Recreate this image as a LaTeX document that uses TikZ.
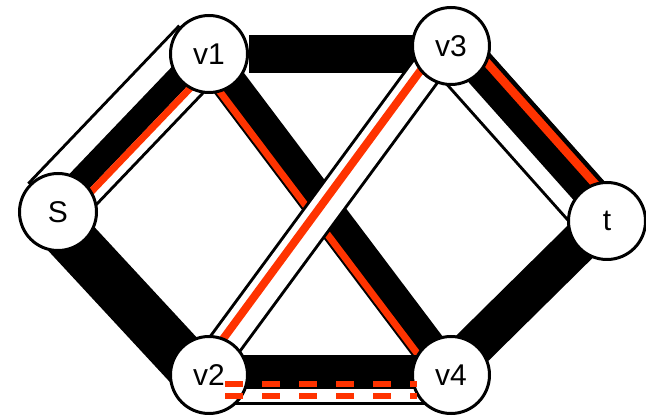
\documentclass[tikz,border=0pt]{standalone}
\usepackage{fontspec}
\setmainfont{Liberation Sans}
\usetikzlibrary{calc,backgrounds}
\definecolor{flowred}{HTML}{FF3300}

%% one straight band from node #2 to node #3, shifted sideways by #4
\newcommand{\edgeband}[4]{%
  \draw[#1] ($(#2)!#4!90:(#3)$) -- ($(#3)!#4!-90:(#2)$);}

\begin{document}
\begin{tikzpicture}[x=1pt, y=-1pt,
    vertex/.style={circle, draw=black, line width=3pt, fill=white,
                   minimum size=77pt, inner sep=0pt,
                   font=\fontsize{30}{36}\selectfont},
    full/.style={black, line width=#1},
    hollow/.style={white, line width=#1},
    augment/.style={flowred, line width=#1}]

\useasboundingbox (0,0) rectangle (646,419);

%% ==== vertices ======================================================
\node[vertex] (S)  at (58,212)  {S};
\node[vertex] (v1) at (209,54)  {v1};
\node[vertex] (v3) at (451,46)  {v3};
\node[vertex] (t)  at (607,221) {t};
\node[vertex] (v2) at (209,375) {v2};
\node[vertex] (v4) at (451,375) {v4};

\begin{pgfonlayer}{background}

  %% S -> v1: open pipe, part filled, augmenting path along its lower side
  \edgeband{full=66.5pt}{S}{v1}{9.25pt}
  \edgeband{hollow=60.5pt}{S}{v1}{9.25pt}
  \edgeband{full=24.5pt}{S}{v1}{5.75pt}
  \edgeband{augment=7pt}{S}{v1}{-10pt}

  %% saturated edges
  \edgeband{full=50pt}{S}{v2}{-8.5pt}
  \draw[full=38pt] (v1) -- (v1 -| v3);
  \edgeband{full=40.6pt}{v4}{t}{4.1pt}

  %% v1 -> v4, full, with the path on its left side
  \edgeband{full=36pt}{v1}{v4}{-1.5pt}
  \edgeband{augment=7pt}{v1}{v4}{-14pt}

  %% v3 -> v2: empty pipe on top of the crossing
  \edgeband{full=35.5pt}{v3}{v2}{-5.5pt}
  \edgeband{hollow=29.5pt}{v3}{v2}{-5.5pt}
  \edgeband{augment=8pt}{v3}{v2}{-10pt}

  %% v3 -> t
  \edgeband{full=54.5pt}{v3}{t}{-2.75pt}
  \edgeband{hollow=48.5pt}{v3}{t}{-2.75pt}
  \edgeband{full=35.2pt}{v3}{t}{6.6pt}
  \edgeband{augment=8.5pt}{v3}{t}{15.75pt}

  %% v2 -> v4
  \edgeband{full=50pt}{v2}{v4}{-5pt}
  \edgeband{hollow=44pt}{v2}{v4}{-5pt}
  \edgeband{full=34pt}{v2}{v4}{3pt}

\end{pgfonlayer}

%% cancelled flow on v2 -- v4, drawn over the vertices
\draw[augment=6pt, dash pattern=on 18pt off 19pt]
  ($(v2)+(16,8.7)$) -- ($(v4)+(-34,8.7)$);
\draw[augment=6pt, dash pattern=on 18pt off 19pt]
  ($(v2)+(16,20.7)$) -- ($(v4)+(-34,20.7)$);

\end{tikzpicture}
\end{document}
